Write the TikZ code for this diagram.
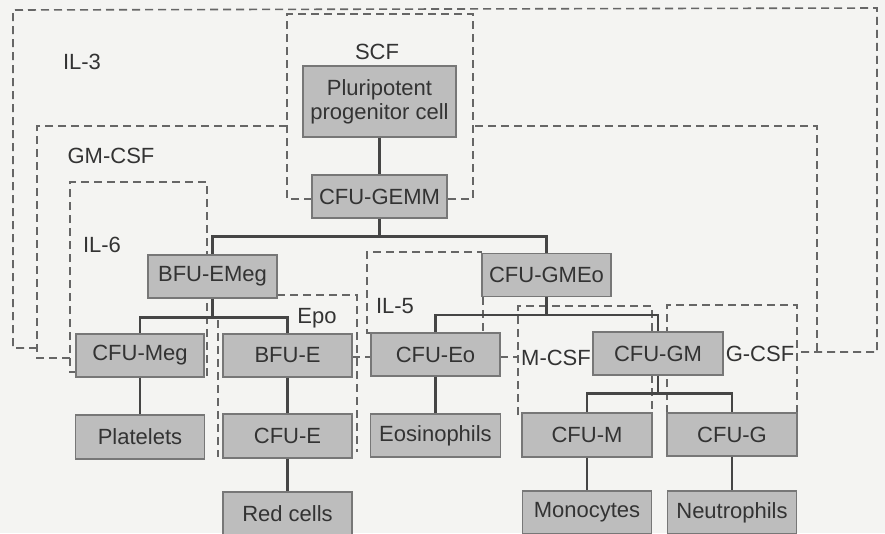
\documentclass[tikz,border=0pt]{standalone}
\usepackage{fontspec}
\setmainfont{Liberation Sans}
\usetikzlibrary{calc}
\definecolor{bg}{HTML}{F4F4F2}
\definecolor{boxfill}{HTML}{BDBDBD}
\definecolor{boxline}{HTML}{777777}
\definecolor{txt}{HTML}{333333}
\definecolor{dashcol}{HTML}{666666}
\definecolor{treecol}{HTML}{454545}
\begin{document}
\begin{tikzpicture}[x=1pt,y=-1pt,
  cell/.style={draw=boxline, fill=boxfill, line width=1.1pt, minimum height=43pt,
    minimum width=129pt, inner sep=0pt, text=txt, font=\fontsize{22}{24}\selectfont},
  lbl/.style={text=txt, inner sep=0pt, font=\fontsize{22}{24}\selectfont},
  region/.style={draw=dashcol, line width=1.6pt, dash pattern=on 8pt off 5pt},
  tree/.style={draw=treecol, line width=2.4pt}]
\fill[bg] (0,0) rectangle (885,533);
\useasboundingbox (0,0) rectangle (885,533);

% dashed regions (drawn first, boxes cover parts)
% IL-3
\draw[region] (37,348) -- (13,348) -- (13,10) -- (877,8) -- (877,352) -- (797,352);
% SCF
\draw[region] (312,199) -- (287,199) -- (287,14) -- (473,14) -- (473,199) -- (447,199);
% GM-CSF
\draw[region] (287,126) -- (37,126) -- (37,358) -- (70,358);
\draw[region] (475,126) -- (817,126) -- (817,352);
% IL-6
\draw[region] (77,372) -- (70,372) -- (70,182) -- (207,182) -- (207,377);
% Epo
\draw[region] (277,295) -- (357,295) -- (357,452);
\draw[region] (218,320) -- (218,457);
% IL-5
\draw[region] (371,333) -- (367,333) -- (367,252) -- (482,252);
\draw[region] (483,297) -- (483,333);
% M-CSF
\draw[region] (518,415) -- (518,306) -- (652,306) -- (652,442);
% G-CSF
\draw[region] (667,413) -- (667,305) -- (797,305) -- (797,432);
% bottom stubs of IL-3 / GM-CSF
\draw[region] (352,357) -- (371,357);
\draw[region] (500,357) -- (518,357);

% cells
\node[cell, minimum width=153pt, minimum height=71pt, align=center] (pp) at (379.5,101.5) {Pluripotent\\progenitor cell};
\node[cell, minimum width=135pt] (gemm) at (379.5,196.5) {CFU-GEMM};
\node[cell] (emeg) at (212.5,276.5) {BFU-EMeg};
\node[cell] (gmeo) at (546.5,275) {CFU-GMEo};
\node[cell, minimum width=128pt] (meg) at (140,355.5) {CFU-Meg};
\node[cell] (bfue) at (287.5,355.5) {BFU-E};
\node[cell] (eo) at (435.5,354.5) {CFU-Eo};
\node[cell, minimum width=130pt] (gm) at (658,353.5) {CFU-GM};
\node[cell, minimum height=44pt] (plt) at (140,437) {Platelets};
\node[cell, minimum height=44pt] (cfue) at (287.5,436) {CFU-E};
\node[cell, minimum width=130pt] (eos) at (435.5,435.5) {Eosinophils};
\node[cell, minimum width=130pt, minimum height=44pt] (cfum) at (587,435) {CFU-M};
\node[cell, minimum width=130pt] (cfug) at (732,434.5) {CFU-G};
\node[cell] (red) at (287.5,513.5) {Red cells};
\node[cell] (mono) at (587,512.5) {Monocytes};
\node[cell] (neut) at (732,512.5) {Neutrophils};

% tree connectors
\draw[tree] (pp) -- (gemm);
\coordinate (j1) at ($(gemm.south)+(0,18)$);
\draw[tree] (gemm) -- (j1) -| (emeg);
\draw[tree] (j1) -| (gmeo);
\coordinate (j2) at ($(emeg.south)+(0,19)$);
\draw[tree] (emeg) -- (j2) -| (meg);
\draw[tree] (j2) -| (bfue);
\coordinate (j3) at ($(gmeo.south)+(0,18)$);
\draw[tree] (gmeo) -- (j3) -| (eo);
\draw[tree] (j3) -| (gm);
\coordinate (j4) at ($(gm.south)+(0,18)$);
\draw[tree] (gm) -- (j4) -| (cfum);
\draw[tree] (j4) -| (cfug);
\draw[tree] (meg) -- (plt);
\draw[tree] (bfue) -- (cfue);
\draw[tree] (cfue) -- (red);
\draw[tree] (eo) -- (eos);
\draw[tree] (cfum) -- (mono);
\draw[tree] (cfug) -- (neut);

% labels
\node[lbl] (il3) at (82,62) {IL-3};
\node[lbl] (scf) at (377,52) {SCF};
\node[lbl] (gmcsf) at (111,156) {GM-CSF};
\node[lbl] (il6) at (102,245) {IL-6};
\node[lbl] (epo) at (317,318) {Epo};
\node[lbl] (il5) at (395,306) {IL-5};
\node[lbl] (mcsf) at (556,358) {M-CSF};
\node[lbl] (gcsf) at (760,354) {G-CSF};
\end{tikzpicture}
\end{document}
